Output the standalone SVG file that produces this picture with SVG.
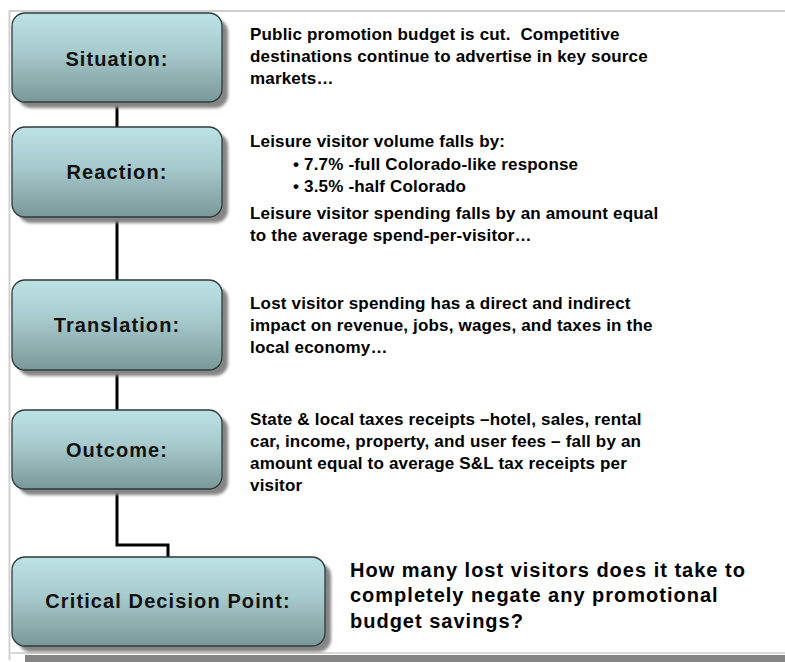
<svg xmlns="http://www.w3.org/2000/svg" width="785" height="662" viewBox="0 0 785 662">
  <defs>
    <linearGradient id="boxFill" x1="0" y1="0" x2="0" y2="1">
      <stop offset="0" stop-color="#bde2e6"/>
      <stop offset="0.45" stop-color="#a6c9cc"/>
      <stop offset="1" stop-color="#7a9898"/>
    </linearGradient>
    <filter id="soft" x="-10%" y="-10%" width="130%" height="130%">
      <feGaussianBlur stdDeviation="1.5"/>
    </filter>
  </defs>
  <style>
    .box { fill: url(#boxFill); stroke: #2e3a3a; stroke-width: 1.3; }
    .shadow { fill: #858585; filter: url(#soft); }
    .label { font-family: "Liberation Sans", Arial, sans-serif; font-weight: bold; font-size: 20px; letter-spacing: 1.1px; fill: #111; text-anchor: middle; }
    .note { font-family: "Liberation Sans", Arial, sans-serif; font-weight: bold; font-size: 17px; letter-spacing: 0.18px; fill: #000; white-space: pre; }
    .question { font-family: "Liberation Sans", Arial, sans-serif; font-weight: bold; font-size: 20px; letter-spacing: 1px; fill: #000; }
    .link { fill: none; stroke: #000; stroke-width: 3; }
  </style>

  <!-- page -->
  <rect x="0" y="0" width="785" height="662" fill="#ffffff"/>
  <rect x="25" y="655" width="760" height="7" fill="#858585"/>
  <path d="M 9.5 660 V 11 H 785" fill="none" stroke="#cfcfcf" stroke-width="2"/>
  <path d="M 9.5 653 H 785" fill="none" stroke="#d8d8d8" stroke-width="2"/>

  <!-- connectors -->
  <g id="connectors">
    <line class="link" x1="117" y1="102" x2="117" y2="127"/>
    <line class="link" x1="117" y1="217" x2="117" y2="280"/>
    <line class="link" x1="117" y1="370" x2="117" y2="410"/>
    <polyline class="link" points="117,489 117,545 168,545 168,557"/>
  </g>

  <!-- nodes -->
  <g id="situation">
    <rect class="shadow" x="18" y="19" width="210" height="89" rx="13"/>
    <rect class="box" x="12" y="13" width="210" height="89" rx="13"/>
    <text class="label" x="117" y="66">Situation:</text>
  </g>

  <g id="reaction">
    <rect class="shadow" x="18" y="133" width="210" height="90" rx="13"/>
    <rect class="box" x="12" y="127" width="210" height="90" rx="13"/>
    <text class="label" x="117" y="179">Reaction:</text>
  </g>

  <g id="translation">
    <rect class="shadow" x="18" y="286" width="210" height="90" rx="13"/>
    <rect class="box" x="12" y="280" width="210" height="90" rx="13"/>
    <text class="label" x="117" y="332">Translation:</text>
  </g>

  <g id="outcome">
    <rect class="shadow" x="18" y="416" width="210" height="79" rx="13"/>
    <rect class="box" x="12" y="410" width="210" height="79" rx="13"/>
    <text class="label" x="117" y="457">Outcome:</text>
  </g>

  <g id="decision">
    <rect class="shadow" x="18" y="563" width="313" height="89" rx="13"/>
    <rect class="box" x="12" y="557" width="313" height="89" rx="13"/>
    <text class="label" x="168" y="608">Critical Decision Point:</text>
  </g>

  <!-- descriptions -->
  <g id="situation-note">
    <text class="note" x="250" y="40">Public promotion budget is cut.  Competitive</text>
    <text class="note" x="250" y="62">destinations continue to advertise in key source</text>
    <text class="note" x="250" y="84">markets…</text>
  </g>

  <g id="reaction-note">
    <text class="note" x="250" y="147">Leisure visitor volume falls by:</text>
    <text class="note" x="293" y="170">• 7.7% -full Colorado-like response</text>
    <text class="note" x="293" y="192">• 3.5% -half Colorado</text>
    <text class="note" x="250" y="219">Leisure visitor spending falls by an amount equal</text>
    <text class="note" x="250" y="241">to the average spend-per-visitor…</text>
  </g>

  <g id="translation-note">
    <text class="note" x="250" y="309">Lost visitor spending has a direct and indirect</text>
    <text class="note" x="250" y="331">impact on revenue, jobs, wages, and taxes in the</text>
    <text class="note" x="250" y="353">local economy…</text>
  </g>

  <g id="outcome-note">
    <text class="note" x="250" y="425">State &amp; local taxes receipts –hotel, sales, rental</text>
    <text class="note" x="250" y="447">car, income, property, and user fees – fall by an</text>
    <text class="note" x="250" y="469">amount equal to average S&amp;L tax receipts per</text>
    <text class="note" x="250" y="491">visitor</text>
  </g>

  <g id="decision-question">
    <text class="question" x="350" y="577">How many lost visitors does it take to</text>
    <text class="question" x="350" y="602">completely negate any promotional</text>
    <text class="question" x="350" y="628">budget savings?</text>
  </g>
</svg>
